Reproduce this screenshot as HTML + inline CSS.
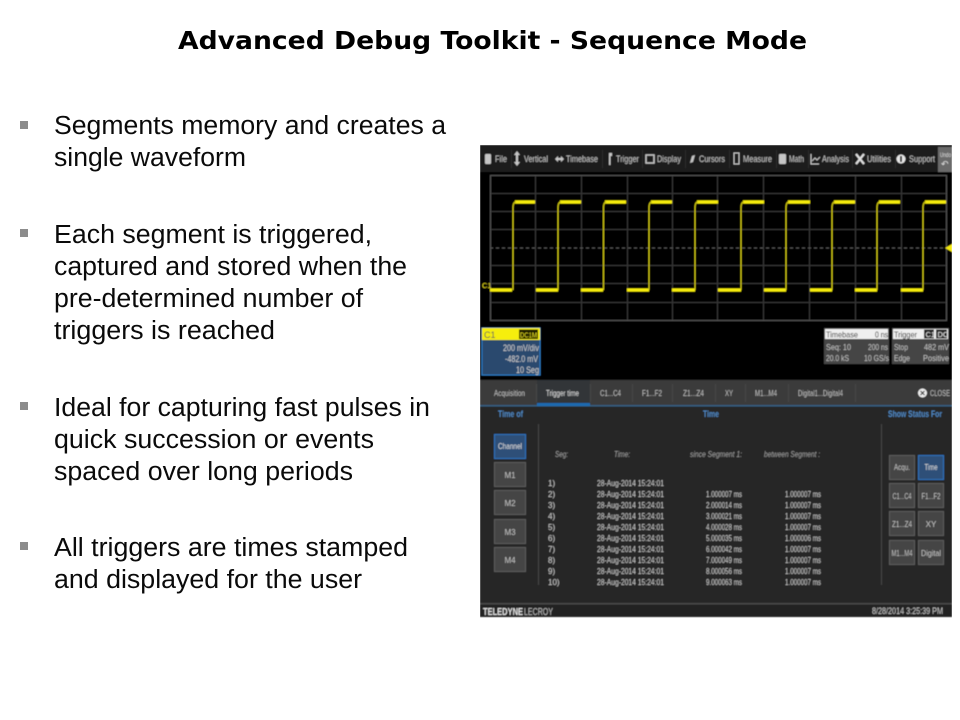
<!DOCTYPE html>
<html><head><meta charset="utf-8"><style>
html,body{margin:0;padding:0;background:#fff;width:960px;height:720px;overflow:hidden}
svg{display:block}
.b{font-family:"Liberation Sans",sans-serif;font-size:25.5px;fill:#0a0a0a}
.s text{font-family:"Liberation Sans",sans-serif}
.m{font-size:9px;fill:#c4c4c4}
.t{font-size:8px;fill:#bdbdbd}
.r{font-size:8px;fill:#c8c8c8}
.h{font-size:8px;fill:#9c9c9c;font-style:italic}
.l{font-size:9px;font-weight:bold;fill:#4f86c0}
.p{font-size:8px;fill:#c0c0c0;text-anchor:middle}
</style></head><body>
<svg width="960" height="720" viewBox="0 0 960 720" xmlns="http://www.w3.org/2000/svg">
<defs><filter id="bl" x="0" y="0" width="100%" height="100%"><feGaussianBlur stdDeviation="0.45"/></filter></defs>
<rect width="960" height="720" fill="#fff"/>
<text x="178" y="49" font-family="'DejaVu Sans',sans-serif" font-weight="bold" font-size="24.5" fill="#000" textLength="629" lengthAdjust="spacingAndGlyphs">Advanced Debug Toolkit - Sequence Mode</text>

<g fill="#8c8c8c"><rect x="20" y="121" width="8" height="8"/><rect x="20" y="229" width="8" height="8"/><rect x="20" y="402" width="8" height="8"/><rect x="20" y="542" width="8" height="8"/></g>
<text class="b" x="54" y="134" textLength="392" lengthAdjust="spacingAndGlyphs">Segments memory and creates a</text>
<text class="b" x="54" y="166" textLength="192" lengthAdjust="spacingAndGlyphs">single waveform</text>
<text class="b" x="54" y="243" textLength="318" lengthAdjust="spacingAndGlyphs">Each segment is triggered,</text>
<text class="b" x="54" y="275" textLength="353" lengthAdjust="spacingAndGlyphs">captured and stored when the</text>
<text class="b" x="54" y="307" textLength="309" lengthAdjust="spacingAndGlyphs">pre-determined number of</text>
<text class="b" x="54" y="339" textLength="221" lengthAdjust="spacingAndGlyphs">triggers is reached</text>
<text class="b" x="54" y="416" textLength="376" lengthAdjust="spacingAndGlyphs">Ideal for capturing fast pulses in</text>
<text class="b" x="54" y="448" textLength="320" lengthAdjust="spacingAndGlyphs">quick succession or events</text>
<text class="b" x="54" y="480" textLength="299" lengthAdjust="spacingAndGlyphs">spaced over long periods</text>
<text class="b" x="54" y="556" textLength="354" lengthAdjust="spacingAndGlyphs">All triggers are times stamped</text>
<text class="b" x="54" y="588" textLength="308" lengthAdjust="spacingAndGlyphs">and displayed for the user</text>

<g class="s" filter="url(#bl)">
<rect x="480" y="145" width="472" height="472" fill="#000"/>
<!-- top bar -->
<rect x="480" y="145" width="472" height="27" fill="#1c1c1c"/>
<rect x="938" y="147" width="14" height="25" fill="#6a6a6a"/>
<text x="940" y="157" font-size="6" fill="#ddd" textLength="11" lengthAdjust="spacingAndGlyphs">Undo</text>
<text x="941" y="167" font-size="9" fill="#ddd">↶</text>
<g fill="#c6c6c6">
<rect x="485" y="154" width="6" height="10" rx="1"/>
<rect x="516" y="153" width="2" height="11"/><path d="M517 151l3 4h-6zM517 166l3-4h-6z"/>
<rect x="556" y="158" width="7" height="2"/><path d="M555 159l3-3v6zM564 159l-3-3v6z"/>
<rect x="609" y="154" width="1.500" height="11"/><rect x="609" y="153" width="3" height="3"/>
<rect x="646" y="155" width="8" height="8" fill="none" stroke="#c6c6c6" stroke-width="1.500"/>
<path d="M690 163l2-7 3-1-2 7z"/>
<rect x="734" y="153" width="5" height="11" fill="none" stroke="#c6c6c6"/>
<rect x="779" y="154" width="7" height="10" rx="1"/>
<path d="M811 154v10h8" fill="none" stroke="#c6c6c6"/><path d="M812 161l3-3 2 2 3-3" fill="none" stroke="#c6c6c6"/>
<path d="M856 154l8 10M864 154l-8 10" stroke="#e0e0e0" stroke-width="2.200"/>
<circle cx="901" cy="159" r="4.500" fill="#e8e8e8"/><rect x="900" y="156" width="2" height="6" fill="#222"/>
</g>
<g class="m">
<text x="495" y="162" textLength="12" lengthAdjust="spacingAndGlyphs">File</text>
<text x="524" y="162" textLength="24" lengthAdjust="spacingAndGlyphs">Vertical</text>
<text x="566" y="162" textLength="32" lengthAdjust="spacingAndGlyphs">Timebase</text>
<text x="616" y="162" textLength="23" lengthAdjust="spacingAndGlyphs">Trigger</text>
<text x="657" y="162" textLength="24" lengthAdjust="spacingAndGlyphs">Display</text>
<text x="699" y="162" textLength="26" lengthAdjust="spacingAndGlyphs">Cursors</text>
<text x="743" y="162" textLength="29" lengthAdjust="spacingAndGlyphs">Measure</text>
<text x="789" y="162" textLength="15" lengthAdjust="spacingAndGlyphs">Math</text>
<text x="822" y="162" textLength="27" lengthAdjust="spacingAndGlyphs">Analysis</text>
<text x="867" y="162" textLength="24" lengthAdjust="spacingAndGlyphs">Utilities</text>
<text x="909" y="162" textLength="26" lengthAdjust="spacingAndGlyphs">Support</text>
</g>
<g stroke="#2e2e2e" stroke-width="1"><path d="M511.500 150v18M602.500 150v18M642.500 150v18M685.500 150v18M729.500 150v18M776.500 150v18M808.500 150v18M852.500 150v18M895.500 150v18"/></g>

<!-- grid -->
<g stroke="#383838" stroke-width="1" fill="none">
<path d="M535.500 175v145M581.500 175v145M627.500 175v145M672.500 175v145M717.500 175v145M763.500 175v145M809.500 175v145M855.500 175v145M901.500 175v145"/>
<path d="M490 193.500h456M490 211.500h456M490 229.500h456M490 265.500h456M490 283.500h456M490 302.500h456"/>
<path d="M490 248h456" stroke="#555" stroke-dasharray="3 3"/>
<rect x="490.500" y="175.500" width="456" height="145" stroke="#555"/>
</g>
<!-- waveform -->
<g fill="none" stroke="#f6ec0c">
<g stroke-width="3.200">
<path d="M490 290h22M536 290h22M581 290h22M627 290h22M672 290h23M718 290h23M764 290h22M810 290h22M855 290h22M901 290h22"/>
<path d="M515 202h20M560 202h21M605 202h21M651 202h21M697 202h21M743 202h21M788 202h22M834 202h21M879 202h21M925 202h21"/>
</g>
<g stroke-width="1.200" stroke="#d0c814">
<path d="M513 290V208q0-6 3-6M558 290V208q0-6 3-6M603.500 290V208q0-6 3-6M649 290V208q0-6 3-6M695 290V208q0-6 3-6M741 290V208q0-6 3-6M786 290V208q0-6 3-6M832 290V208q0-6 3-6M877 290V208q0-6 3-6M923 290V208q0-6 3-6"/>
</g>
</g>
<path d="M945 248l7-4v8z" fill="#f4e90a"/>
<text x="482" y="288" font-size="7.500" fill="#e8dd20">C1</text>

<!-- C1 box -->
<rect x="482" y="328" width="58" height="47" fill="#2c4a6e" stroke="#2e7cc4" stroke-width="1"/>
<rect x="482" y="328" width="58" height="12" fill="#f6ee10"/>
<rect x="519" y="329.500" width="19" height="9.500" fill="#1c1c06"/>
<text x="484" y="338" font-size="9" fill="#555">C1</text>
<text x="520" y="337.500" font-size="7.500" fill="#e8df20" textLength="17" lengthAdjust="spacingAndGlyphs">DC1M</text>
<g font-size="9" fill="#d0d0d0">
<text x="503" y="351" textLength="36" lengthAdjust="spacingAndGlyphs">200 mV/div</text>
<text x="505" y="362" textLength="33" lengthAdjust="spacingAndGlyphs">-482.0 mV</text>
<text x="516" y="373" textLength="23" lengthAdjust="spacingAndGlyphs">10 Seg</text>
</g>

<!-- Timebase box -->
<rect x="824" y="328" width="65" height="36" fill="#444"/>
<rect x="825" y="329" width="63" height="10" fill="#f0f0f0"/>
<text x="826" y="337.500" font-size="8.500" fill="#222" textLength="32" lengthAdjust="spacingAndGlyphs">Timebase</text>
<text x="875" y="337.500" font-size="8.500" fill="#222" textLength="13" lengthAdjust="spacingAndGlyphs">0 ns</text>
<g font-size="8.500" fill="#c0c0c0">
<text x="826" y="350" textLength="25" lengthAdjust="spacingAndGlyphs">Seq: 10</text><text x="868" y="350" textLength="20" lengthAdjust="spacingAndGlyphs">200 ns</text>
<text x="826" y="361" textLength="23" lengthAdjust="spacingAndGlyphs">20.0 kS</text><text x="864" y="361" textLength="25" lengthAdjust="spacingAndGlyphs">10 GS/s</text>
</g>
<rect x="892" y="328" width="57" height="36" fill="#444"/>
<rect x="893" y="329" width="55" height="10" fill="#f0f0f0"/>
<text x="894" y="337.500" font-size="8.500" fill="#222" textLength="23" lengthAdjust="spacingAndGlyphs">Trigger</text>
<rect x="924" y="329.500" width="10" height="9" fill="#222"/><rect x="936" y="329.500" width="11" height="9" fill="#222"/>
<text x="925.500" y="337" font-size="7.500" fill="#eee">C1</text><text x="937.500" y="337" font-size="7.500" fill="#eee">DC</text>
<g font-size="8.500" fill="#c0c0c0">
<text x="894" y="350" textLength="14" lengthAdjust="spacingAndGlyphs">Stop</text><text x="924" y="350" textLength="25" lengthAdjust="spacingAndGlyphs">482 mV</text>
<text x="894" y="361" textLength="16" lengthAdjust="spacingAndGlyphs">Edge</text><text x="923" y="361" textLength="26" lengthAdjust="spacingAndGlyphs">Positive</text>
</g>

<!-- dialog -->
<rect x="480" y="380" width="472" height="25" fill="#3a3a3a"/>
<rect x="480" y="405" width="472" height="1.500" fill="#355f80"/>
<rect x="480" y="406.500" width="472" height="197" fill="#252525"/>
<rect x="537" y="380" width="53" height="25" fill="#303438"/>
<rect x="537" y="403" width="53" height="3" fill="#1f6ab0"/>
<g stroke="#4a4a4a"><path d="M536.500 384v18M590.500 384v18M632.500 384v18M672.500 384v18M715.500 384v18M745.500 384v18M788.500 384v18M855.500 384v18"/></g>
<g class="t">
<text x="494" y="396" textLength="31" lengthAdjust="spacingAndGlyphs">Acquisition</text>
<text x="546" y="396" textLength="33" lengthAdjust="spacingAndGlyphs" style="fill:#ddd">Trigger time</text>
<text x="600" y="396" textLength="21" lengthAdjust="spacingAndGlyphs">C1...C4</text>
<text x="642" y="396" textLength="20" lengthAdjust="spacingAndGlyphs">F1...F2</text>
<text x="683" y="396" textLength="21" lengthAdjust="spacingAndGlyphs">Z1...Z4</text>
<text x="725" y="396" textLength="8" lengthAdjust="spacingAndGlyphs">XY</text>
<text x="755" y="396" textLength="22" lengthAdjust="spacingAndGlyphs">M1...M4</text>
<text x="798" y="396" textLength="45" lengthAdjust="spacingAndGlyphs">Digital1...Digital4</text>
<text x="930" y="396" textLength="20" lengthAdjust="spacingAndGlyphs">CLOSE</text>
</g>
<circle cx="922.500" cy="393" r="4.500" fill="#eee"/>
<path d="M920.500 391l4 4M924.500 391l-4 4" stroke="#333" stroke-width="1.200"/>

<text class="l" x="498" y="417" textLength="25" lengthAdjust="spacingAndGlyphs">Time of</text>
<text class="l" x="703" y="417" textLength="16" lengthAdjust="spacingAndGlyphs">Time</text>
<text class="l" x="888" y="417" textLength="54" lengthAdjust="spacingAndGlyphs">Show Status For</text>

<path d="M538.500 424v161M881.500 424v161" stroke="#444"/>

<!-- left buttons -->
<rect x="494.500" y="434.500" width="31" height="24" fill="#2e5078" stroke="#2e72bc"/>
<g fill="#444" stroke="#5c5c5c">
<rect x="494.500" y="462.500" width="31" height="24"/>
<rect x="494.500" y="490.500" width="31" height="24"/>
<rect x="494.500" y="519.500" width="31" height="24"/>
<rect x="494.500" y="547.500" width="31" height="24"/>
</g>
<text class="p" x="510" y="449" style="fill:#ddd" textLength="24" lengthAdjust="spacingAndGlyphs">Channel</text>
<text class="p" x="510" y="478">M1</text>
<text class="p" x="510" y="506">M2</text>
<text class="p" x="510" y="535">M3</text>
<text class="p" x="510" y="563">M4</text>

<!-- right buttons -->
<g fill="#444" stroke="#5c5c5c">
<rect x="889.500" y="455.500" width="25" height="24"/>
<rect x="889.500" y="483.500" width="25" height="24"/><rect x="918.500" y="483.500" width="25" height="24"/>
<rect x="889.500" y="511.500" width="25" height="24"/><rect x="918.500" y="511.500" width="25" height="24"/>
<rect x="889.500" y="540.500" width="25" height="24"/><rect x="918.500" y="540.500" width="25" height="24"/>
</g>
<rect x="918.500" y="455.500" width="25" height="24" fill="#2e5078" stroke="#2e72bc"/>
<text class="p" x="902" y="470" textLength="16" lengthAdjust="spacingAndGlyphs">Acqu.</text>
<text class="p" x="931" y="470" style="fill:#ddd" textLength="13" lengthAdjust="spacingAndGlyphs">Time</text>
<text class="p" x="902" y="499" textLength="19" lengthAdjust="spacingAndGlyphs">C1...C4</text>
<text class="p" x="931" y="499" textLength="19" lengthAdjust="spacingAndGlyphs">F1...F2</text>
<text class="p" x="902" y="527" textLength="20" lengthAdjust="spacingAndGlyphs">Z1...Z4</text>
<text class="p" x="931" y="527">XY</text>
<text class="p" x="902" y="556" textLength="21" lengthAdjust="spacingAndGlyphs">M1...M4</text>
<text class="p" x="931" y="556" textLength="20" lengthAdjust="spacingAndGlyphs">Digital</text>

<!-- table -->
<g class="h">
<text x="555" y="457" textLength="13" lengthAdjust="spacingAndGlyphs">Seg:</text>
<text x="614" y="457" textLength="16" lengthAdjust="spacingAndGlyphs">Time:</text>
<text x="690" y="457" textLength="52" lengthAdjust="spacingAndGlyphs">since Segment 1:</text>
<text x="764" y="457" textLength="56" lengthAdjust="spacingAndGlyphs">between Segment :</text>
</g>
<g class="r">
<text x="548" y="486">1)</text><text x="548" y="497">2)</text><text x="548" y="508">3)</text><text x="548" y="519">4)</text><text x="548" y="530">5)</text><text x="548" y="541">6)</text><text x="548" y="552">7)</text><text x="548" y="563">8)</text><text x="548" y="574">9)</text><text x="548" y="585">10)</text>
<text x="597" y="486" textLength="67" lengthAdjust="spacingAndGlyphs">28-Aug-2014  15:24:01</text>
<text x="597" y="497" textLength="67" lengthAdjust="spacingAndGlyphs">28-Aug-2014  15:24:01</text>
<text x="597" y="508" textLength="67" lengthAdjust="spacingAndGlyphs">28-Aug-2014  15:24:01</text>
<text x="597" y="519" textLength="67" lengthAdjust="spacingAndGlyphs">28-Aug-2014  15:24:01</text>
<text x="597" y="530" textLength="67" lengthAdjust="spacingAndGlyphs">28-Aug-2014  15:24:01</text>
<text x="597" y="541" textLength="67" lengthAdjust="spacingAndGlyphs">28-Aug-2014  15:24:01</text>
<text x="597" y="552" textLength="67" lengthAdjust="spacingAndGlyphs">28-Aug-2014  15:24:01</text>
<text x="597" y="563" textLength="67" lengthAdjust="spacingAndGlyphs">28-Aug-2014  15:24:01</text>
<text x="597" y="574" textLength="67" lengthAdjust="spacingAndGlyphs">28-Aug-2014  15:24:01</text>
<text x="597" y="585" textLength="67" lengthAdjust="spacingAndGlyphs">28-Aug-2014  15:24:01</text>
<text x="706" y="497" textLength="36" lengthAdjust="spacingAndGlyphs">1.000007 ms</text>
<text x="706" y="508" textLength="36" lengthAdjust="spacingAndGlyphs">2.000014 ms</text>
<text x="706" y="519" textLength="36" lengthAdjust="spacingAndGlyphs">3.000021 ms</text>
<text x="706" y="530" textLength="36" lengthAdjust="spacingAndGlyphs">4.000028 ms</text>
<text x="706" y="541" textLength="36" lengthAdjust="spacingAndGlyphs">5.000035 ms</text>
<text x="706" y="552" textLength="36" lengthAdjust="spacingAndGlyphs">6.000042 ms</text>
<text x="706" y="563" textLength="36" lengthAdjust="spacingAndGlyphs">7.000049 ms</text>
<text x="706" y="574" textLength="36" lengthAdjust="spacingAndGlyphs">8.000056 ms</text>
<text x="706" y="585" textLength="36" lengthAdjust="spacingAndGlyphs">9.000063 ms</text>
<text x="785" y="497" textLength="36" lengthAdjust="spacingAndGlyphs">1.000007 ms</text>
<text x="785" y="508" textLength="36" lengthAdjust="spacingAndGlyphs">1.000007 ms</text>
<text x="785" y="519" textLength="36" lengthAdjust="spacingAndGlyphs">1.000007 ms</text>
<text x="785" y="530" textLength="36" lengthAdjust="spacingAndGlyphs">1.000007 ms</text>
<text x="785" y="541" textLength="36" lengthAdjust="spacingAndGlyphs">1.000006 ms</text>
<text x="785" y="552" textLength="36" lengthAdjust="spacingAndGlyphs">1.000007 ms</text>
<text x="785" y="563" textLength="36" lengthAdjust="spacingAndGlyphs">1.000007 ms</text>
<text x="785" y="574" textLength="36" lengthAdjust="spacingAndGlyphs">1.000007 ms</text>
<text x="785" y="585" textLength="36" lengthAdjust="spacingAndGlyphs">1.000007 ms</text>
</g>

<!-- footer -->
<rect x="480" y="603" width="472" height="14" fill="#202020"/>
<rect x="480" y="603" width="472" height="1.500" fill="#4a4a4a"/>
<text x="483" y="615" font-size="10" font-weight="bold" fill="#e4e4e4" textLength="40" lengthAdjust="spacingAndGlyphs">TELEDYNE</text>
<text x="524" y="615" font-size="10" fill="#bdbdbd" textLength="29" lengthAdjust="spacingAndGlyphs">LECROY</text>
<text x="872" y="614" font-size="9" fill="#c8c8c8" textLength="71" lengthAdjust="spacingAndGlyphs">8/28/2014 3:25:39 PM</text>
</g>
</svg>
</body></html>
